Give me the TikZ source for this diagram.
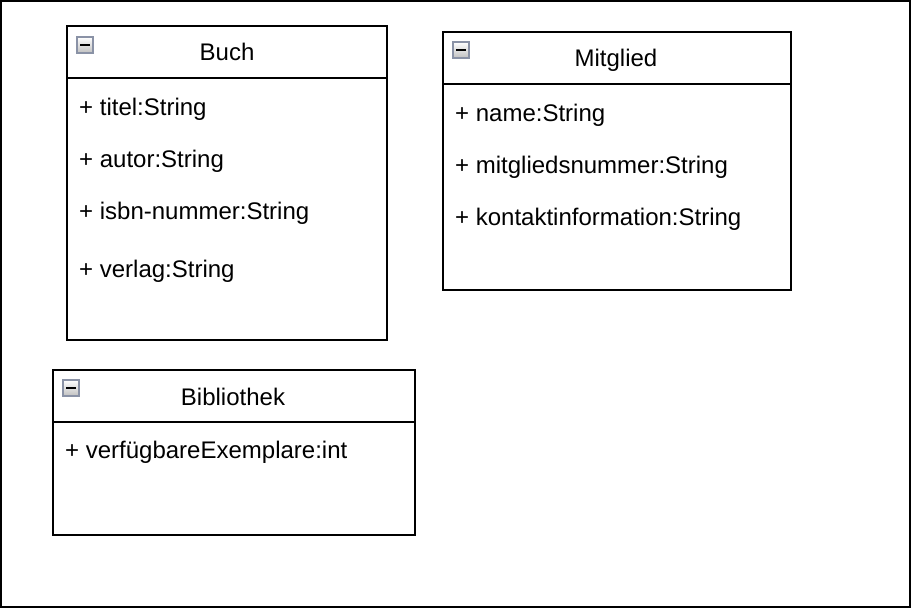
\documentclass[tikz,border=0pt]{standalone}
\usepackage{fontspec}
\setmainfont{Liberation Sans}
\begin{document}
\begin{tikzpicture}[x=1pt,y=-1pt,
  classbox/.style={draw=black,line width=1.8pt,inner sep=0pt,outer sep=0pt,anchor=north west},
  divline/.style={draw=black,line width=1.8pt},
  attr/.style={anchor=base west,inner sep=0pt,font=\fontsize{24}{28}\selectfont},
  title/.style={anchor=base,inner sep=0pt,font=\fontsize{24}{28}\selectfont},
  iconbox/.style={draw={rgb,255:red,138;green,146;blue,166},line width=2pt,top color=white,bottom color={rgb,255:red,192;green,192;blue,192},minimum size=16pt,inner sep=0pt,outer sep=0pt,anchor=north west},
  iconbar/.style={draw=black,line width=2.6pt}
]
\useasboundingbox (0,0) rectangle (912,609);
\node[draw=black,line width=2pt,inner sep=0pt,outer sep=0pt,minimum width=909pt,minimum height=606pt,anchor=north west] (frame) at (1,1) {};

% Buch
\node[classbox,minimum width=320pt,minimum height=314pt] (buch) at (67,26) {};
\draw[divline] (67,78) -- (387,78);
\node[iconbox] (ibuch) at (77,37) {};
\draw[iconbar] ([xshift=3pt]ibuch.west) -- ([xshift=-3pt]ibuch.east);
\node[title] (tbuch) at (227,61) {Buch};
\node[attr] (b1) at (79,116) {+ titel:String};
\node[attr] (b2) at (79,168) {+ autor:String};
\node[attr] (b3) at (79,220) {+ isbn-nummer:String};
\node[attr] (b4) at (79,278) {+ verlag:String};

% Mitglied
\node[classbox,minimum width=348pt,minimum height=258pt] (mit) at (443,32) {};
\draw[divline] (443,84) -- (791,84);
\node[iconbox] (imit) at (453,42) {};
\draw[iconbar] ([xshift=3pt]imit.west) -- ([xshift=-3pt]imit.east);
\node[title] (tmit) at (616,67) {Mitglied};
\node[attr] (m1) at (455,122) {+ name:String};
\node[attr] (m2) at (455,174) {+ mitgliedsnummer:String};
\node[attr] (m3) at (455,226) {+ kontaktinformation:String};

% Bibliothek
\node[classbox,minimum width=362pt,minimum height=165pt] (bib) at (53,370) {};
\draw[divline] (53,422) -- (415,422);
\node[iconbox] (ibib) at (63,380) {};
\draw[iconbar] ([xshift=3pt]ibib.west) -- ([xshift=-3pt]ibib.east);
\node[title] (tbib) at (233,405) {Bibliothek};
\node[attr] (l1) at (65,458) {+ verfügbareExemplare:int};
\end{tikzpicture}
\end{document}
